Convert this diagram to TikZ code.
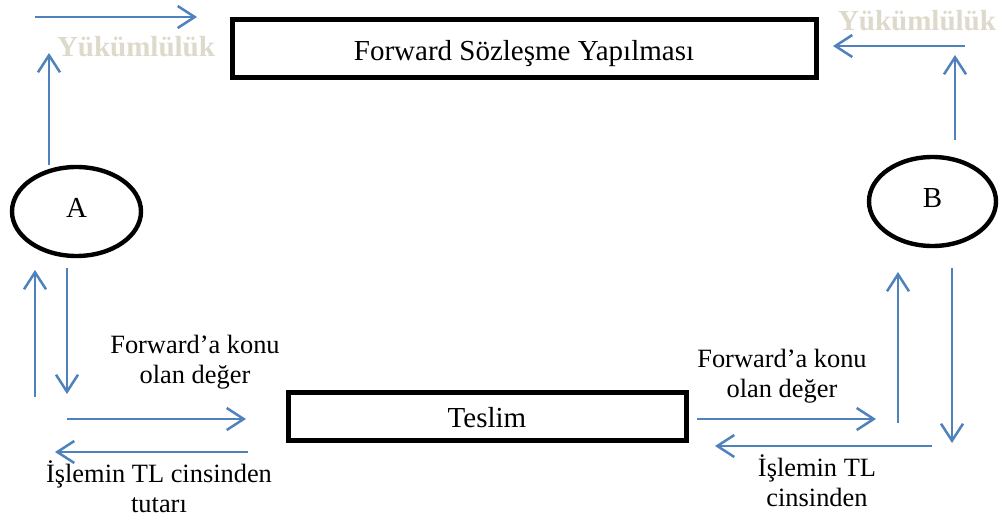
\documentclass[tikz,border=0pt]{standalone}
\usepackage{fontspec}
\setmainfont{Liberation Serif}
\usetikzlibrary{arrows.meta,shapes.geometric}

\definecolor{flowblue}{RGB}{79,129,189}
\definecolor{dutytone}{RGB}{221,217,203}

\begin{document}
\begin{tikzpicture}[x=0.5pt,y=-0.5pt,
  flow/.style={draw=flowblue,line width=1.25pt,
    -{Straight Barb[length=8.5pt,width=11pt]}},
  stagebox/.style={draw,line width=2.5pt,inner sep=0pt,
    font=\fontsize{14.5}{17}\selectfont,text depth=0pt},
  party/.style={draw,ellipse,line width=2.2pt,inner sep=0pt,
    font=\fontsize{14.5}{17}\selectfont,text height=5.5pt,text depth=0pt},
  flowtext/.style={align=center,inner sep=0pt,
    font=\fontsize{13.2}{15}\selectfont},
  duty/.style={anchor=base,inner sep=0pt,text=dutytone,
    font=\fontsize{14.5}{17}\selectfont\bfseries}]

\useasboundingbox (0,0) rectangle (1000,524);

% main stages
\node[stagebox,minimum width=292pt,minimum height=29pt,text height=12pt]
  (contract) at (524,49) {Forward Sözleşme Yapılması};
\node[stagebox,minimum width=199pt,minimum height=24pt,text height=11pt]
  (delivery) at (487,416) {Teslim};

% the two parties
\node[party,minimum width=64.5pt,minimum height=44.5pt] (A) at (76.5,211.5) {A};
\node[party,minimum width=63.5pt,minimum height=44.5pt] (B) at (932.5,201.5) {B};

% obligation labels
\node[duty] (dutyA) at (136,57) {Yükümlülük};
\node[duty] (dutyB) at (917,31) {Yükümlülük};

% flow labels
\node[flowtext] (valA) at (195,362) {Forward’a konu\\olan değer};
\node[flowtext] (valB) at (782,376) {Forward’a konu\\olan değer};
\node[flowtext] (payA) at (159,487) {İşlemin TL cinsinden\\tutarı};
\node[flowtext] (payB) at (817,481) {İşlemin TL\\cinsinden};

% arrow end points
\coordinate (a1s) at (35,17);   \coordinate (a1e) at (197,17);
\coordinate (a2s) at (49,165);  \coordinate (a2e) at (49,53);
\coordinate (b1s) at (965,46);  \coordinate (b1e) at (833,46);
\coordinate (b2s) at (955,140); \coordinate (b2e) at (955,55);
\coordinate (a3s) at (35,397);  \coordinate (a3e) at (35,270);
\coordinate (a4s) at (67,268);  \coordinate (a4e) at (67,394);
\coordinate (a5s) at (67,419);  \coordinate (a5e) at (246,419);
\coordinate (a6s) at (248,452); \coordinate (a6e) at (55,452);
\coordinate (b3s) at (898,423); \coordinate (b3e) at (898,272);
\coordinate (b4s) at (952,268); \coordinate (b4e) at (952,443);
\coordinate (b5s) at (697,419); \coordinate (b5e) at (876,419);
\coordinate (b6s) at (932,446); \coordinate (b6e) at (715,446);

% flows
\foreach \p in {a1,a2,a3,a4,a5,a6,b1,b2,b3,b4,b5,b6}
  \draw[flow] (\p s) -- (\p e);

\end{tikzpicture}
\end{document}
